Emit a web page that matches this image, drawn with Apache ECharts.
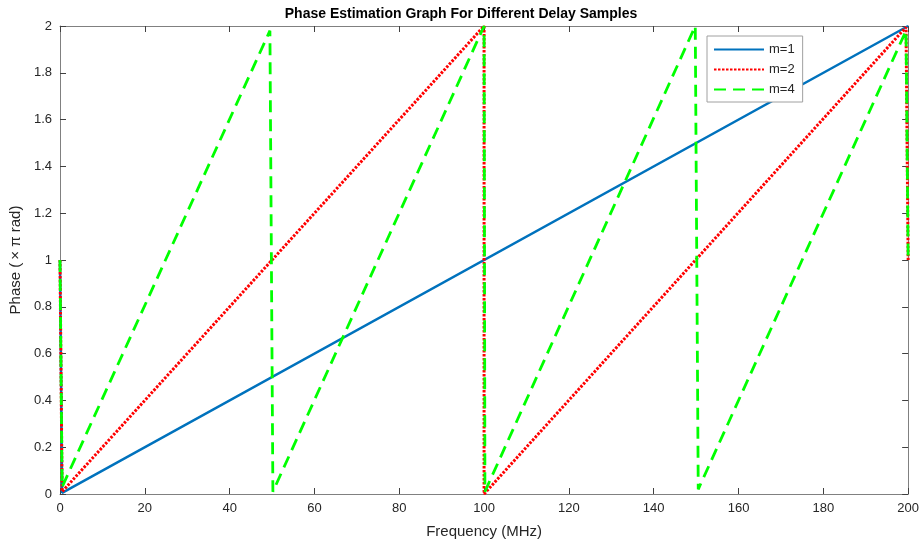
<!DOCTYPE html>
<html>
<head>
<meta charset="utf-8">
<script src="https://cdn.jsdelivr.net/npm/echarts@6/dist/echarts.min.js"></script>
<style>
  html, body { margin: 0; padding: 0; background: #fff; }
  #chart { width: 922px; height: 547px; }
</style>
</head>
<body>
<div id="chart"></div>
<script>
// Wrapped phase (in units of pi) versus frequency for each delay m
const xTicks = [0, 20, 40, 60, 80, 100, 120, 140, 160, 180, 200];
const yTicks = [0, 0.2, 0.4, 0.6, 0.8, 1, 1.2, 1.4, 1.6, 1.8, 2];

const m1Freq  = [0, 0.5, 200];
const m1Phase = [1, 0.005, 2];

const m2Freq  = [0, 0.5, 100, 100, 199.5, 200];
const m2Phase = [1, 0.01, 2, 0, 1.995, 1];

const m4Freq  = [0, 0.5, 49.5, 50.2, 100, 100.2, 149.8, 150.5, 199.5, 200];
const m4Phase = [1, 0.03, 1.98, 0.01, 2, 0.01, 2, 0.02, 1.98, 1];

const pairs = (xs, ys) => xs.map((x, i) => [x, ys[i]]);

const font = "'Liberation Sans', Arial, Helvetica, sans-serif";
const axisGray = '#808080';
const textColor = '#262626';

const chart = echarts.init(document.getElementById('chart'), null, { renderer: 'canvas' });

const baseX = {
  type: 'value', min: 0, max: 200, interval: 20,
  axisLine: { show: true, onZero: false, lineStyle: { color: axisGray, width: 1 } },
  axisTick: { show: true, inside: true, length: 6, lineStyle: { color: '#404040' } },
  splitLine: { show: false }
};
const baseY = {
  type: 'value', min: 0, max: 2, interval: 0.2,
  axisLine: { show: true, onZero: false, lineStyle: { color: axisGray, width: 1 } },
  axisTick: { show: true, inside: true, length: 6, lineStyle: { color: '#404040' } },
  splitLine: { show: false }
};

chart.setOption({
  animation: false,
  backgroundColor: '#ffffff',
  title: {
    text: 'Phase Estimation Graph For Different Delay Samples',
    left: 'center', top: 2,
    textStyle: { fontFamily: font, fontSize: 14, fontWeight: 'bold', color: '#000' }
  },
  legend: {
    orient: 'vertical',
    left: 707, top: 36,
    itemWidth: 50, itemHeight: 10, itemGap: 7,
    padding: [7, 8, 6, 6],
    backgroundColor: '#fff',
    borderColor: '#a0a0a0', borderWidth: 1,
    itemStyle: { opacity: 0 },
    textStyle: { fontFamily: font, fontSize: 13, color: textColor },
    data: ['m=1', 'm=2', 'm=4']
  },
  grid: { left: 60, right: 13, top: 26, bottom: 53, containLabel: false },
  xAxis: [
    Object.assign({}, baseX, {
      position: 'bottom',
      name: 'Frequency (MHz)', nameLocation: 'middle', nameGap: 30,
      nameTextStyle: { fontFamily: font, fontSize: 15, color: textColor },
      axisLabel: {
        fontFamily: font, fontSize: 13, color: textColor, margin: 8,
        formatter: v => (xTicks.includes(v) ? String(v) : '')
      }
    }),
    Object.assign({}, baseX, { position: 'top', axisLabel: { show: false } })
  ],
  yAxis: [
    Object.assign({}, baseY, {
      position: 'left',
      name: 'Phase (\u2009\u00d7 \u03c0 rad)', nameLocation: 'middle', nameGap: 32,
      nameTextStyle: { fontFamily: font, fontSize: 15, color: textColor },
      axisLabel: {
        fontFamily: font, fontSize: 13, color: textColor, margin: 8,
        formatter: v => {
          const t = yTicks.find(k => Math.abs(k - v) < 1e-9);
          return t === undefined ? '' : String(t);
        }
      }
    }),
    Object.assign({}, baseY, { position: 'right', axisLabel: { show: false } })
  ],
  series: [
    {
      name: 'm=1', type: 'line', symbol: 'none', z: 3,
      data: pairs(m1Freq, m1Phase),
      lineStyle: { color: '#0072BD', width: 2.5, type: 'solid' },
      itemStyle: { color: '#0072BD' }
    },
    {
      name: 'm=2', type: 'line', symbol: 'none', z: 4,
      data: pairs(m2Freq, m2Phase),
      lineStyle: { color: '#FF0000', width: 3, type: [2.5, 1.5] },
      itemStyle: { color: '#FF0000' }
    },
    {
      name: 'm=4', type: 'line', symbol: 'none', z: 5,
      data: pairs(m4Freq, m4Phase),
      lineStyle: { color: '#00FF00', width: 2.8, type: [12, 7] },
      itemStyle: { color: '#00FF00' }
    }
  ]
});
</script>
</body>
</html>
